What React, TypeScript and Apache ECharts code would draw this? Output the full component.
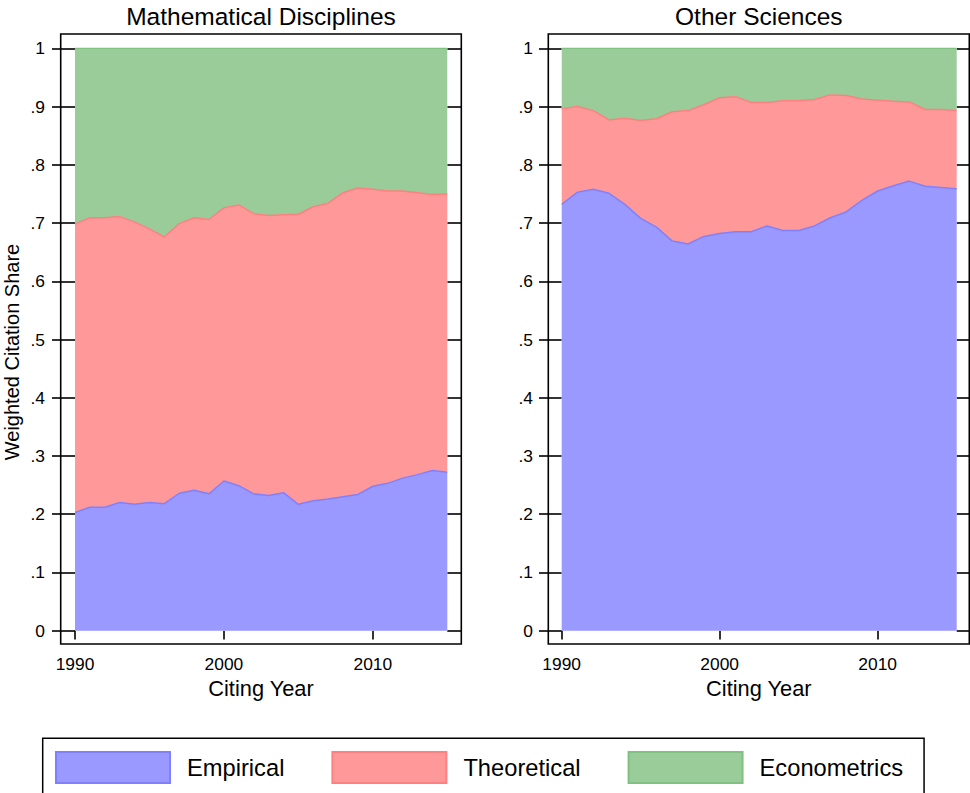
import React, { useEffect, useRef } from "react";
import * as echarts from "echarts";

const years = [1990, 1991, 1992, 1993, 1994, 1995, 1996, 1997, 1998, 1999, 2000, 2001, 2002, 2003, 2004, 2005, 2006, 2007, 2008, 2009, 2010, 2011, 2012, 2013, 2014, 2015];

// Mathematical Disciplines
const mathEmpirical = [0.203, 0.212, 0.212, 0.220, 0.217, 0.220, 0.218, 0.236, 0.241, 0.235, 0.257, 0.249, 0.235, 0.232, 0.237, 0.217, 0.223, 0.226, 0.230, 0.234, 0.248, 0.253, 0.262, 0.268, 0.275, 0.272];
const mathTheoretical = [0.495, 0.497, 0.497, 0.491, 0.485, 0.470, 0.458, 0.463, 0.468, 0.471, 0.469, 0.482, 0.481, 0.481, 0.477, 0.498, 0.505, 0.508, 0.522, 0.526, 0.510, 0.502, 0.493, 0.484, 0.474, 0.478];
const mathEconometrics = [0.302, 0.291, 0.291, 0.289, 0.298, 0.310, 0.324, 0.301, 0.291, 0.294, 0.274, 0.269, 0.284, 0.287, 0.286, 0.285, 0.272, 0.266, 0.248, 0.240, 0.242, 0.245, 0.245, 0.248, 0.251, 0.250];

// Other Sciences
const otherEmpirical = [0.732, 0.753, 0.758, 0.751, 0.732, 0.708, 0.693, 0.669, 0.664, 0.677, 0.682, 0.685, 0.685, 0.695, 0.687, 0.687, 0.695, 0.709, 0.719, 0.739, 0.755, 0.764, 0.772, 0.763, 0.761, 0.759];
const otherTheoretical = [0.164, 0.147, 0.135, 0.126, 0.148, 0.168, 0.186, 0.222, 0.229, 0.226, 0.233, 0.232, 0.222, 0.212, 0.223, 0.223, 0.217, 0.211, 0.200, 0.174, 0.156, 0.145, 0.136, 0.132, 0.134, 0.134];
const otherEconometrics = [0.104, 0.100, 0.107, 0.123, 0.120, 0.124, 0.121, 0.109, 0.107, 0.097, 0.085, 0.083, 0.093, 0.093, 0.090, 0.090, 0.088, 0.080, 0.081, 0.087, 0.089, 0.091, 0.092, 0.105, 0.105, 0.107];

const seriesNames = ["Empirical", "Theoretical", "Econometrics"];
const panelTitles = ["Mathematical Disciplines", "Other Sciences"];
const xTitle = "Citing Year";
const yTitle = "Weighted Citation Share";
const xTicks = [1990, 2000, 2010];
const yTickLabels = ["0", ".1", ".2", ".3", ".4", ".5", ".6", ".7", ".8", ".9", "1"];

const FILLS = ["#9999ff", "#ff9999", "#99cc99"];
const LINES = ["#8080ff", "#ff8080", "#80c080"];
const FONT = "'Liberation Sans', Arial, Helvetica, sans-serif";

export default function App() {
  const ref = useRef<HTMLDivElement>(null);

  useEffect(() => {
    if (!ref.current) return;
    const chart = echarts.init(ref.current, null, { renderer: "svg" });

    const panels = [
      { data: [mathEmpirical, mathTheoretical, mathEconometrics], grid: { left: 75, top: 48.3, width: 372.3, height: 582.4 }, frame: { x: 60.7, y: 34, width: 400.6, height: 610 }, leftTick: 23, rightTick: 14, labelMargin: 30 },
      { data: [otherEmpirical, otherTheoretical, otherEconometrics], grid: { left: 561.7, top: 48.3, width: 395, height: 582.4 }, frame: { x: 548.3, y: 34, width: 421, height: 610 }, leftTick: 22.7, rightTick: 12.6, labelMargin: 28.7 },
    ];

    const isTick = (_i: number, v: string) => xTicks.indexOf(Number(v)) >= 0;

    const grids: any[] = [];
    const xAxes: any[] = [];
    const yAxes: any[] = [];
    const series: any[] = [];
    const graphics: any[] = [];

    panels.forEach((p, i) => {
      grids.push({ ...p.grid, containLabel: false });
      xAxes.push({
        type: "category",
        gridIndex: i,
        data: years.map(String),
        boundaryGap: false,
        position: "bottom",
        offset: 13.3,
        axisLine: { show: false },
        axisTick: { show: true, length: 8.7, interval: isTick, lineStyle: { color: "#000", width: 1.6 } },
        axisLabel: { show: true, interval: isTick, margin: 11, color: "#000", fontSize: 17.4, fontFamily: FONT },
        splitLine: { show: false },
      });
      yAxes.push({
        type: "value",
        gridIndex: i,
        min: 0,
        max: 1,
        interval: 0.1,
        position: "left",
        axisLine: { show: false },
        axisTick: { show: true, length: p.leftTick, lineStyle: { color: "#000", width: 1.6 } },
        axisLabel: { show: true, margin: p.labelMargin, color: "#000", fontSize: 17.4, fontFamily: FONT, formatter: (v: number) => yTickLabels[Math.round(v * 10)] },
        splitLine: { show: false },
      });
      yAxes.push({
        type: "value",
        gridIndex: i,
        min: 0,
        max: 1,
        interval: 0.1,
        position: "right",
        axisLine: { show: false },
        axisTick: { show: true, length: p.rightTick, lineStyle: { color: "#000", width: 1.6 } },
        axisLabel: { show: false },
        splitLine: { show: false },
      });
      p.data.forEach((vals, k) => {
        series.push({
          type: "line",
          name: seriesNames[k],
          xAxisIndex: i,
          yAxisIndex: i * 2,
          stack: "panel" + i,
          symbol: "none",
          showSymbol: false,
          itemStyle: { color: FILLS[k] },
          lineStyle: { color: LINES[k], width: 1.5 },
          areaStyle: { color: FILLS[k], opacity: 1 },
          z: 2,
          data: vals,
        });
      });
      graphics.push({
        type: "rect",
        shape: p.frame,
        style: { fill: "none", stroke: "#000", lineWidth: 1.6 },
        z: 10,
      });
      const cx = p.frame.x + p.frame.width / 2;
      graphics.push({
        type: "text",
        x: cx,
        y: 16.2,
        style: { text: panelTitles[i], fill: "#000", font: `24.5px ${FONT}`, textAlign: "center", textVerticalAlign: "middle" },
      });
      graphics.push({
        type: "text",
        x: cx,
        y: 688,
        style: { text: xTitle, fill: "#000", font: `21.8px ${FONT}`, textAlign: "center", textVerticalAlign: "middle" },
      });
    });

    graphics.push({
      type: "text",
      x: 11.5,
      y: 352,
      rotation: Math.PI / 2,
      style: { text: yTitle, fill: "#000", font: `20px ${FONT}`, textAlign: "center", textVerticalAlign: "middle" },
    });

    chart.setOption({
      animation: false,
      backgroundColor: "#ffffff",
      grid: grids,
      xAxis: xAxes,
      yAxis: yAxes,
      series,
      graphic: graphics,
      legend: {
        show: true,
        orient: "horizontal",
        left: 42.7,
        top: 738.3,
        padding: [12.7, 21, 12.7, 12.3],
        borderColor: "#000",
        borderWidth: 1.5,
        itemWidth: 114,
        itemHeight: 31,
        itemGap: 47,
        icon: "rect",
        selectedMode: false,
        textStyle: { color: "#000", fontSize: 23.7, fontFamily: FONT, padding: [0, 0, 0, 12] },
        data: seriesNames.map((n, k) => ({
          name: n,
          icon: "rect",
          itemStyle: { color: FILLS[k], borderColor: LINES[k], borderWidth: 2 },
        })),
      },
    });

    return () => {
      chart.dispose();
    };
  }, []);

  return <div ref={ref} style={{ position: "absolute", left: 0, top: 0, width: 970, height: 793 }} />;
}
